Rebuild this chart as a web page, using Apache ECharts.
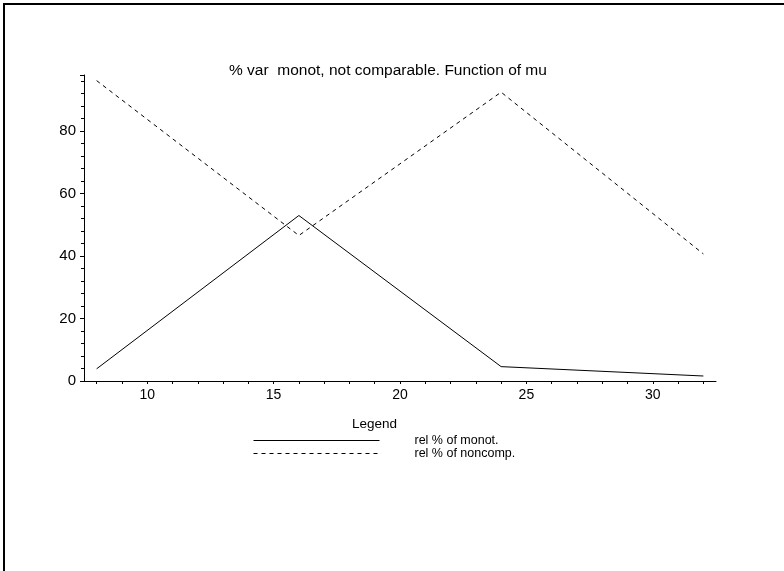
<!DOCTYPE html>
<html lang="en">
<head>
    <meta charset="UTF-8">
    <title>% var monot, not comparable</title>
    <script type="text/javascript" src="https://cdn.jsdelivr.net/npm/echarts@6/dist/echarts.min.js"></script>
    <style>
        html, body { margin: 0; padding: 0; background: #fff; }
        #chart { width: 784px; height: 571px; }
    </style>
</head>
<body>
<div id="chart"></div>
<script>
    // values
    var mu = [8, 16, 24, 32];
    var monot = [3.9, 53.0, 4.6, 1.6];
    var noncomp = [96.2, 46.6, 92.5, 40.7];
    var xLabels = [10, 15, 20, 25, 30];
    var xMinor = [8, 9, 10, 11, 12, 13, 14, 15, 16, 17, 18, 19, 20, 21, 22, 23, 24, 25, 26, 27, 28, 29, 30, 31, 32];

    function pairs(xs, ys) {
        return xs.map(function (x, i) { return [x, ys[i]]; });
    }

    var font = 'Liberation Sans, Arial, sans-serif';
    var chart = echarts.init(document.getElementById('chart'));

    var option = {
        animation: false,
        title: {
            text: '% var  monot, not comparable. Function of mu',
            left: 224,
            top: 58,
            textStyle: { fontFamily: font, fontSize: 15.5, fontWeight: 'normal', color: '#000' }
        },
        graphic: [
            // frame: only top and left edges are visible
            { type: 'rect', shape: { x: 4, y: 4, width: 820, height: 620 }, style: { fill: 'none', stroke: '#000', lineWidth: 2 }, silent: true },
            { type: 'text', left: 352, top: 417, style: { text: 'Legend', fontFamily: font, fontSize: 13.5, fill: '#000' } }
        ],
        legend: {
            left: 248,
            top: 429,
            orient: 'vertical',
            itemWidth: 126,
            itemHeight: 11,
            itemGap: 0,
            itemStyle: { opacity: 0 },
            lineStyle: { width: 1 },
            textStyle: { fontFamily: font, fontSize: 12.5, lineHeight: 12, color: '#000', padding: [0, 0, 0, 30] },
            data: ['rel % of monot.', 'rel % of noncomp.']
        },
        grid: { left: 84, right: 68, top: 75, bottom: 190 },
        xAxis: {
            type: 'value',
            min: 7.5,
            max: 32.5,
            axisLine: { onZero: false, lineStyle: { color: '#000', width: 1 } },
            axisTick: { customValues: xMinor, length: 3, lineStyle: { color: '#000' } },
            axisLabel: { customValues: xLabels, margin: 7, fontFamily: font, fontSize: 14, color: '#000' },
            splitLine: { show: false }
        },
        yAxis: {
            type: 'value',
            min: 0,
            max: 98,
            interval: 20,
            axisLine: { show: true, lineStyle: { color: '#000', width: 1 } },
            axisTick: { show: true, length: 4, lineStyle: { color: '#000' } },
            minorTick: { show: true, splitNumber: 5, length: 3, lineStyle: { color: '#000' } },
            axisLabel: { margin: 8, fontFamily: font, fontSize: 15, color: '#000',
                showMaxLabel: false },
            splitLine: { show: false }
        },
        series: [
            {
                name: 'rel % of monot.',
                type: 'line',
                data: pairs(mu, monot),
                symbol: 'none',
                lineStyle: { color: '#000', width: 1 },
                itemStyle: { color: '#000' }
            },
            {
                name: 'rel % of noncomp.',
                type: 'line',
                data: pairs(mu, noncomp),
                symbol: 'none',
                lineStyle: { color: '#000', width: 1, type: [4, 4] },
                itemStyle: { color: '#000' }
            }
        ]
    };
    chart.setOption(option);
</script>
</body>
</html>
